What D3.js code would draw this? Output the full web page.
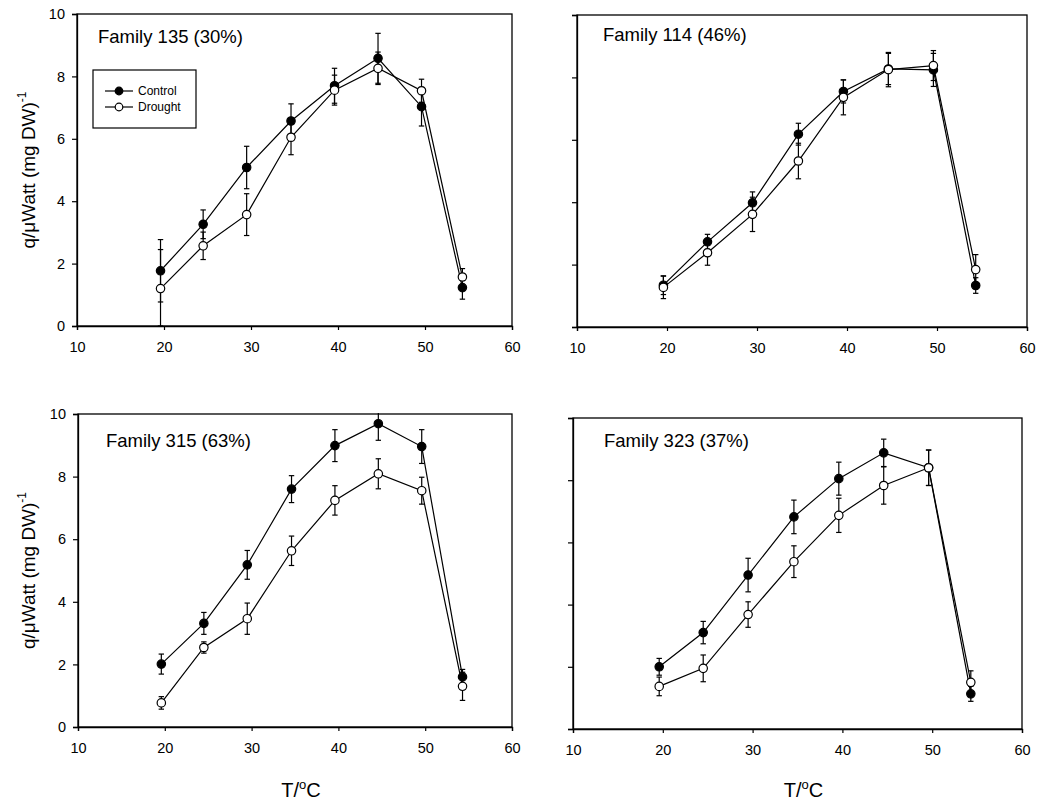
<!DOCTYPE html>
<html><head><meta charset="utf-8">
<script src="https://cdn.jsdelivr.net/npm/d3@7"></script>
<style>
html,body{margin:0;padding:0;background:#fff;}
svg text{font-family:Arial,"Liberation Sans",Helvetica,sans-serif;fill:#000;}
</style></head>
<body><svg id="c" width="1042" height="802"></svg>
<script>
// ---- data ----
const temps = [19.6, 24.5, 29.5, 34.6, 39.6, 44.6, 49.6, 54.3];
const xTicks = [10, 20, 30, 40, 50, 60];
const yTicks = [0, 2, 4, 6, 8, 10];
const seriesNames = ["Control", "Drought"];
const panelTitles = ["Family 135 (30%)", "Family 114 (46%)", "Family 315 (63%)", "Family 323 (37%)"];

const control135 = [1.77, 3.26, 5.08, 6.57, 7.70, 8.58, 7.03, 1.23];
const controlErr135 = [1.0, 0.46, 0.68, 0.55, 0.56, 0.80, 0.62, 0.37];
const drought135 = [1.20, 2.57, 3.57, 6.05, 7.56, 8.26, 7.54, 1.57];
const droughtErr135 = [1.25, 0.44, 0.67, 0.56, 0.48, 0.52, 0.37, 0.27];

const control114 = [1.34, 2.73, 3.98, 6.18, 7.55, 8.27, 8.24, 1.33];
const controlErr114 = [0.30, 0.24, 0.35, 0.35, 0.37, 0.50, 0.53, 0.25];
const drought114 = [1.27, 2.38, 3.61, 5.32, 7.36, 8.25, 8.38, 1.84];
const droughtErr114 = [0.36, 0.40, 0.55, 0.57, 0.56, 0.55, 0.48, 0.48];

const control315 = [2.01, 3.31, 5.18, 7.60, 8.99, 9.69, 8.96, 1.60];
const controlErr315 = [0.32, 0.35, 0.46, 0.43, 0.51, 0.53, 0.54, 0.24];
const drought315 = [0.77, 2.54, 3.46, 5.63, 7.24, 8.09, 7.55, 1.30];
const droughtErr315 = [0.20, 0.18, 0.50, 0.47, 0.47, 0.48, 0.43, 0.45];

const control323 = [2.00, 3.10, 4.95, 6.82, 8.05, 8.88, 8.40, 1.13];
const controlErr323 = [0.27, 0.36, 0.54, 0.54, 0.53, 0.44, 0.57, 0.24];
const drought323 = [1.37, 1.95, 3.68, 5.38, 6.87, 7.83, 8.40, 1.50];
const droughtErr323 = [0.30, 0.43, 0.41, 0.51, 0.55, 0.60, 0.57, 0.37];

const panelsData = [
  {title: panelTitles[0], c: control135, ce: controlErr135, d: drought135, de: droughtErr135},
  {title: panelTitles[1], c: control114, ce: controlErr114, d: drought114, de: droughtErr114},
  {title: panelTitles[2], c: control315, ce: controlErr315, d: drought315, de: droughtErr315},
  {title: panelTitles[3], c: control323, ce: controlErr323, d: drought323, de: droughtErr323}
];

// ---- layout ----
const frames = [
  {l: 77, r: 512, t: 14, b: 326, yLabels: true, xTitle: false, tx: 98, ty: 43, legend: true},
  {l: 577, r: 1027, t: 15, b: 327, yLabels: false, xTitle: false, tx: 603, ty: 41, legend: false},
  {l: 78, r: 512, t: 414, b: 727, yLabels: true, xTitle: true, tx: 106, ty: 447, legend: false},
  {l: 573, r: 1022, t: 418, b: 729, yLabels: false, xTitle: true, tx: 604, ty: 447, legend: false}
];

const svg = d3.select("#c");

frames.forEach((f, i) => {
  const pd = panelsData[i];
  const x = d3.scaleLinear().domain([10, 60]).range([f.l, f.r]);
  const y = d3.scaleLinear().domain([0, 10]).range([f.b, f.t]);
  const g = svg.append("g");

  // frame
  g.append("rect").attr("x", f.l).attr("y", f.t).attr("width", f.r - f.l).attr("height", f.b - f.t)
    .attr("fill", "none").attr("stroke", "#000").attr("stroke-width", 1.3);

  // axes
  const xa = d3.axisBottom(x).tickValues(xTicks).tickSize(4).tickPadding(12).tickFormat(d3.format("d"));
  const xg = g.append("g").attr("transform", `translate(0,${f.b})`).call(xa);
  const ya = d3.axisLeft(y).tickValues(yTicks).tickSize(5).tickPadding(7).tickFormat(f.yLabels ? d3.format("d") : "");
  const yg = g.append("g").attr("transform", `translate(${f.l},0)`).call(ya);
  [xg, yg].forEach(a => {
    a.select(".domain").attr("stroke", "#000").attr("stroke-width", 1.3);
    a.selectAll(".tick line").attr("stroke", "#000").attr("stroke-width", 1.2);
    a.selectAll(".tick text").attr("font-size", 14.5).attr("fill", "#000")
      .style("font-family", "Arial, 'Liberation Sans', sans-serif");
  });

  // clip
  const cid = "clip" + i;
  svg.append("clipPath").attr("id", cid).append("rect")
    .attr("x", f.l).attr("y", f.t - 1).attr("width", f.r - f.l).attr("height", f.b - f.t + 1);
  const pg = g.append("g").attr("clip-path", `url(#${cid})`);

  const series = [
    {v: pd.c, e: pd.ce, fill: "#000"},
    {v: pd.d, e: pd.de, fill: "#fff"}
  ];
  const line = d3.line().x((d, k) => x(temps[k])).y(d => y(d));

  series.forEach(s => {
    pg.append("path").datum(s.v).attr("d", line).attr("fill", "none")
      .attr("stroke", "#000").attr("stroke-width", 1.2);
  });
  series.forEach(s => {
    const eb = pg.append("g").attr("stroke", "#000").attr("stroke-width", 1.2);
    s.v.forEach((v, k) => {
      const cx = x(temps[k]);
      const y1 = y(Math.max(0, v - s.e[k])), y2 = y(v + s.e[k]);
      eb.append("line").attr("x1", cx).attr("x2", cx).attr("y1", y1).attr("y2", y2);
      eb.append("line").attr("x1", cx - 2.7).attr("x2", cx + 2.7).attr("y1", y1).attr("y2", y1);
      eb.append("line").attr("x1", cx - 2.7).attr("x2", cx + 2.7).attr("y1", y2).attr("y2", y2);
    });
  });
  series.forEach(s => {
    g.append("g").selectAll("circle").data(s.v).join("circle")
      .attr("cx", (d, k) => x(temps[k])).attr("cy", d => y(d)).attr("r", 4.2)
      .attr("fill", s.fill).attr("stroke", "#000").attr("stroke-width", 1.2);
  });

  // title
  g.append("text").attr("x", f.tx).attr("y", f.ty).attr("font-size", 18.5).text(pd.title);

  // y label
  if (f.yLabels) {
    const cy = (f.t + f.b) / 2;
    const t = g.append("text").attr("transform", `translate(35,${cy}) rotate(-90)`)
      .attr("text-anchor", "middle").attr("font-size", 19);
    t.append("tspan").text("q/\u03bcWatt (mg DW)");
    t.append("tspan").attr("font-size", 12).attr("dy", -9).text("-1");
  }
  // x title
  if (f.xTitle) {
    const t = g.append("text").attr("x", (f.l + f.r) / 2 + 6).attr("y", 797)
      .attr("text-anchor", "middle").attr("font-size", 20);
    t.append("tspan").text("T/");
    t.append("tspan").attr("font-size", 13).attr("dy", -8).text("o");
    t.append("tspan").attr("dy", 8).text("C");
  }

  // legend
  if (f.legend) {
    const lg = g.append("g");
    lg.append("rect").attr("x", 93).attr("y", 70).attr("width", 103).attr("height", 58)
      .attr("fill", "#fff").attr("stroke", "#000").attr("stroke-width", 1.2);
    const fills = ["#000", "#fff"];
    seriesNames.forEach((nm, k) => {
      const ly = 91 + k * 16;
      lg.append("line").attr("x1", 105).attr("x2", 133).attr("y1", ly).attr("y2", ly)
        .attr("stroke", "#000").attr("stroke-width", 1.2);
      lg.append("circle").attr("cx", 119).attr("cy", ly).attr("r", 3.8)
        .attr("fill", fills[k]).attr("stroke", "#000").attr("stroke-width", 1.2);
      lg.append("text").attr("x", 138).attr("y", ly + 4).attr("font-size", 12).text(nm);
    });
  }
});
</script>
</body></html>
